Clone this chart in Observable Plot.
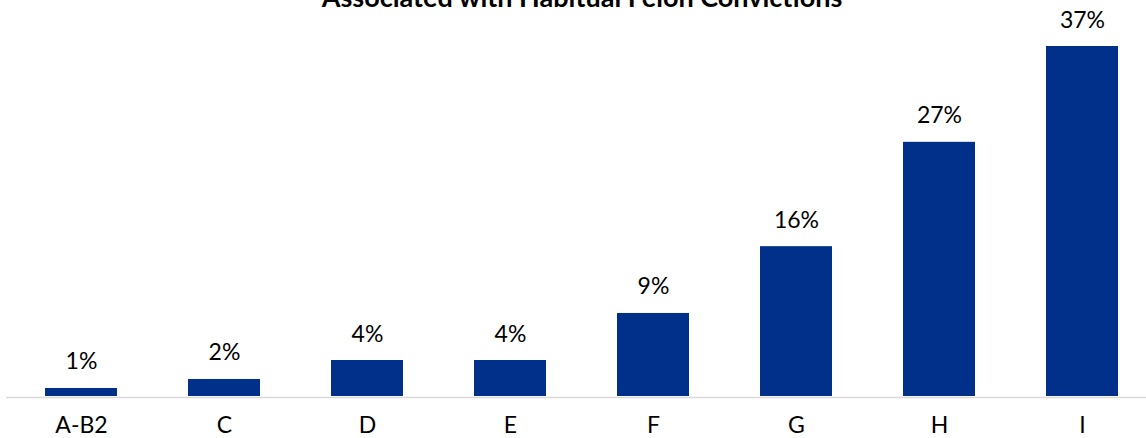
<!DOCTYPE html>
<html>
<head>
<meta charset="utf-8">
<script src="https://cdn.jsdelivr.net/npm/d3@7"></script>
<script src="https://cdn.jsdelivr.net/npm/@observablehq/plot@0.6"></script>
<style>
  html, body { margin: 0; padding: 0; background: #fff; overflow: hidden; }
  #wrap { position: relative; width: 1146px; height: 438px; }
  #title { position: absolute; left: 0; top: -17px; width: 1164px; text-align: center;
           font: bold 27px Lato, sans-serif; line-height: 27px; color: #000; white-space: nowrap; }
  #chart { position: absolute; left: 0; top: 0; }
</style>
</head>
<body>
<div id="wrap">
  <div id="chart"></div>
  <div id="title">Associated with Habitual Felon Convictions</div>
</div>
<script>
const categories = ["A-B2", "C", "D", "E", "F", "G", "H", "I"];
const values = [0.95, 1.9, 3.9, 3.9, 8.86, 15.9, 26.9, 37.0];
const valueLabels = ["1%", "2%", "4%", "4%", "9%", "16%", "27%", "37%"];

const data = categories.map((c, i) => ({ cat: c, v: values[i], label: valueLabels[i] }));

const chart = Plot.plot({
  width: 1146,
  height: 438,
  marginTop: 0,
  marginLeft: 6,
  marginRight: -10,
  marginBottom: 41,
  style: { fontFamily: "Lato, sans-serif", fontSize: "23px", color: "#000", background: "#fff" },
  x: { domain: categories, paddingInner: 0.5, paddingOuter: 0.25, label: null },
  y: { domain: [0, 41.85], axis: null },
  marks: [
    Plot.barY(data, { x: "cat", y: "v", fill: "#00308a", insetBottom: 1 }),
    Plot.ruleY([0], { stroke: "#d9d9d9", strokeWidth: 1.5 }),
    Plot.text(data, { x: "cat", y: "v", text: "label", dy: -19, lineAnchor: "bottom", fontSize: 23, fill: "#000" }),
    Plot.axisX({ tickSize: 0, tickPadding: 19, fontSize: 23, label: null, fill: "#000" })
  ]
});
document.getElementById("chart").appendChild(chart);
</script>
</body>
</html>
